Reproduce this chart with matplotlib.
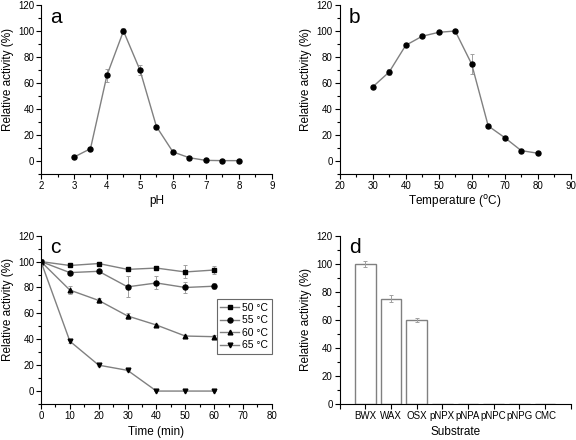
import numpy as np
import matplotlib.pyplot as plt
from matplotlib.ticker import MultipleLocator

plt.rcParams['font.family'] = ['Liberation Sans', 'DejaVu Sans']
plt.rcParams['font.size'] = 7

# panel a: pH profile
ph = [3, 3.5, 4, 4.5, 5, 5.5, 6, 6.5, 7, 7.5, 8]
ph_act = [3, 9.5, 66, 100, 70, 26.5, 7, 2.5, 0.5, 0.3, 0.3]
ph_err = [0, 0.8, 5, 2.5, 4, 0.8, 0, 0, 0, 0, 0]

# panel b: temperature profile
temp = [30, 35, 40, 45, 50, 55, 60, 65, 70, 75, 80]
temp_act = [57, 68.5, 89, 96, 99, 100, 74.5, 27, 18, 8, 6]
temp_err = [0, 2.5, 0.8, 0.5, 0.8, 0.5, 7.5, 1, 1, 0.5, 0.5]

# panel c: thermostability
time = [0, 10, 20, 30, 40, 50, 60]
stab = {
    '50 °C': [100, 97, 98.5, 94, 95, 92, 93.5],
    '55 °C': [100, 91.5, 92.5, 80.5, 83.5, 80, 81],
    '60 °C': [100, 78, 70, 58, 51, 42.5, 42],
    '65 °C': [100, 38.5, 20, 16, 0, 0, 0],
}
stab_err = {
    '50 °C': [0, 1, 1, 1, 1, 5, 3],
    '55 °C': [0, 1, 1, 8, 5, 4, 2.5],
    '60 °C': [0, 3, 2, 2.5, 1, 1, 1],
    '65 °C': [0, 1, 0.5, 0.5, 0, 0, 0],
}
markers = ['s', 'o', '^', 'v']

# panel d: substrate specificity
substrates = ['BWX', 'WAX', 'OSX', 'pNPX', 'pNPA', 'pNPC', 'pNPG', 'CMC']
sub_act = [100, 75, 60, 0, 0, 0, 0, 0]
sub_err = [2, 2.5, 1.5, 0, 0, 0, 0, 0]

fig = plt.figure(figsize=(5.76, 4.4), dpi=100)
ax_a = fig.add_axes([0.0712, 0.6045, 0.4008, 0.3841])
ax_b = fig.add_axes([0.5898, 0.6045, 0.4010, 0.3841])
ax_c = fig.add_axes([0.0712, 0.0818, 0.4008, 0.3825])
ax_d = fig.add_axes([0.5898, 0.0818, 0.4010, 0.3825])

line_kw = dict(color='#808080', lw=1, marker='o', mfc='black', mec='black', ms=3.6,
               ecolor='#a0a0a0', elinewidth=0.7, capsize=1.5, capthick=0.7)


def style(ax, ylab_y=0.56):
    ax.spines['top'].set_visible(False)
    ax.spines['right'].set_visible(False)
    for s in ['left', 'bottom']:
        ax.spines[s].set_linewidth(0.8)
    ax.tick_params(which='both', direction='out', width=0.8)
    ax.tick_params(which='major', length=3.5, labelsize=7, pad=1.5)
    ax.tick_params(which='minor', length=2)
    ax.yaxis.set_major_locator(MultipleLocator(20))
    ax.yaxis.set_minor_locator(MultipleLocator(10))
    ax.set_ylabel('Relative activity (%)', fontsize=8.5)
    ax.yaxis.set_label_coords(-0.145, ylab_y)
    ax.yaxis.label.set_va('center')


def xlab(ax, text, y):
    ax.set_xlabel(text, fontsize=8.5)
    ax.xaxis.set_label_coords(0.5, y)
    ax.xaxis.label.set_va('center')


ax_a.errorbar(ph, ph_act, yerr=ph_err, **line_kw)
style(ax_a)
ax_a.set_xlim(2, 9)
ax_a.set_ylim(-10, 120)
ax_a.xaxis.set_major_locator(MultipleLocator(1))
ax_a.xaxis.set_minor_locator(MultipleLocator(0.5))
xlab(ax_a, 'pH', -0.16)
ax_a.text(0.04, 0.985, 'a', transform=ax_a.transAxes, fontsize=15, va='top')

ax_b.errorbar(temp, temp_act, yerr=temp_err, **line_kw)
style(ax_b)
ax_b.set_xlim(20, 90)
ax_b.set_ylim(-10, 120)
ax_b.xaxis.set_major_locator(MultipleLocator(10))
ax_b.xaxis.set_minor_locator(MultipleLocator(5))
xlab(ax_b, 'Temperature ($^{\\rm o}$C)', -0.165)
ax_b.text(0.04, 0.985, 'b', transform=ax_b.transAxes, fontsize=15, va='top')

for (lab, vals), m in zip(stab.items(), markers):
    kw = dict(line_kw)
    kw['marker'] = m
    kw['ms'] = 3.6 if m == 'o' else 3.4
    ax_c.errorbar(time, vals, yerr=stab_err[lab], label=lab, **kw)
style(ax_c)
ax_c.set_xlim(0, 80)
ax_c.set_ylim(-10, 120)
ax_c.xaxis.set_major_locator(MultipleLocator(10))
ax_c.xaxis.set_minor_locator(MultipleLocator(5))
xlab(ax_c, 'Time (min)', -0.165)
ax_c.text(0.04, 0.985, 'c', transform=ax_c.transAxes, fontsize=15, va='top')
handles, labels = ax_c.get_legend_handles_labels()
handles = [h[0] for h in handles]
leg = ax_c.legend(handles, labels, loc='center right', bbox_to_anchor=(1.0, 0.46),
                  fontsize=7.5, frameon=True, fancybox=False, handlelength=1.8,
                  handletextpad=0.3, borderpad=0.35, labelspacing=0.25,
                  borderaxespad=0.0)
leg.get_frame().set_edgecolor('#444444')
leg.get_frame().set_linewidth(0.8)

xpos = np.arange(len(substrates))
ax_d.bar(xpos, sub_act, width=0.8, color='white', edgecolor='#808080', lw=1,
         yerr=sub_err, ecolor='#a0a0a0',
         error_kw=dict(elinewidth=0.7, capsize=1.5, capthick=0.7))
style(ax_d, ylab_y=0.5)
ax_d.set_xlim(-1, 8)
ax_d.set_ylim(0, 120)
ax_d.set_xticks(np.arange(-1, 9))
ax_d.set_xticklabels([''] + substrates + [''])
ax_d.tick_params(axis='x', labelsize=7)
xlab(ax_d, 'Substrate', -0.165)
ax_d.text(0.04, 0.985, 'd', transform=ax_d.transAxes, fontsize=15, va='top')

fig.savefig('out.png', dpi=100)
